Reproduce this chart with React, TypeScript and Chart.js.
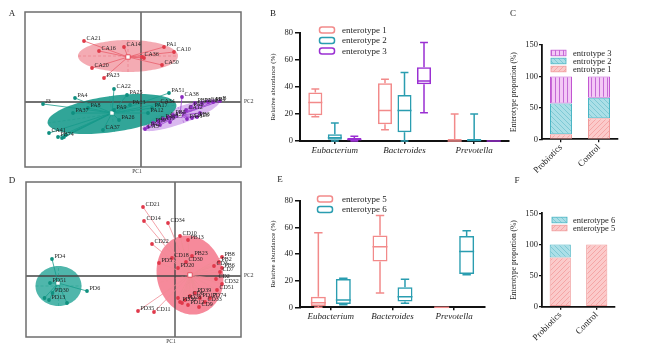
import React, { useEffect, useRef } from 'react';
import { Chart, registerables } from 'chart.js';

Chart.register(...registerables);

const SERIF = '"Liberation Serif", "DejaVu Serif", serif';
const INK = '#1e1e1e';

// ================= Panel A : PCA of enterotypes 1-3 =================
const A_ent1_names = ['CA21', 'CA16', 'CA14', 'PA1', 'CA10', 'CA36', 'CA50', 'CA20', 'PA23', ''];
const A_ent1_pc1 = [-0.57, -0.42, -0.17, 0.23, 0.33, 0.01, 0.21, -0.49, -0.37, 0.03];
const A_ent1_pc2 = [0.61, 0.51, 0.55, 0.55, 0.5, 0.45, 0.37, 0.34, 0.24, 0.44];
const A_ent1_centroid = [-0.13, 0.45];
const A_ent1_ellipse = [-0.13, 0.46, 0.5, 0.16, 0]; // cx, cy, semi-major, semi-minor, angle (deg)

const A_ent2_names = ['J3', 'PA4', 'CA22', 'PA25', 'PA8', 'PA37', 'PA9', 'PA13', 'PA51', 'CA34', 'PA17', 'PA12', 'CA37', 'PA26', 'CA41', 'PB74', '', '', ''];
const A_ent2_pc1 = [-0.98, -0.66, -0.27, -0.14, -0.53, -0.68, -0.27, -0.11, 0.28, 0.17, 0.11, 0.07, -0.38, -0.22, -0.92, -0.83, -0.79, -0.77, -0.75];
const A_ent2_pc2 = [-0.02, 0.04, 0.13, 0.07, -0.06, -0.11, -0.08, -0.03, 0.09, -0.02, -0.06, -0.11, -0.28, -0.18, -0.31, -0.35, -0.36, -0.35, -0.33];
const A_ent2_centroid = [-0.29, -0.11];
const A_ent2_ellipse = [-0.29, -0.12, 0.65, 0.18, 8];

const A_ent3_names = ['CA38', 'PB22', 'PA30', 'CA9', 'PB1', 'B', 'CA3', 'PA2', 'PB9', 'CA19', '', 'PA15', 'CA27', '', 'PB5', 'PA41', 'CA28', 'PB3', '', 'PA6', 'CA12'];
const A_ent3_pc1 = [0.41, 0.54, 0.61, 0.67, 0.72, 0.79, 0.04, 0.07, 0.12, 0.17, 0.19, 0.22, 0.27, 0.29, 0.32, 0.46, 0.51, 0.56, 0.59, 0.5, 0.45];
const A_ent3_pc2 = [0.05, -0.01, -0.01, 0.0, 0.0, 0.01, -0.27, -0.25, -0.21, -0.19, -0.23, -0.17, -0.15, -0.2, -0.13, -0.17, -0.16, -0.15, -0.11, -0.05, -0.08];
const A_ent3_centroid = [0.39, -0.13];
const A_ent3_ellipse = [0.4, -0.13, 0.41, 0.085, 20];

// ================= Panel D : PCA of enterotypes 5-6 =================
const D_ent5_names = ['CD21', 'CD14', 'CD34', 'CD10', 'CD22', 'PB13', 'PD5', 'CD18', 'PB23', 'CD30', 'PD20', 'PB8', 'PB2', 'CD3', 'PB6', 'CD7', 'CD2', 'CD32', 'CD51', 'PD35', 'CD11', 'PD36', '', 'PD28', 'CD6', 'PD39', 'PD17', 'CD33', 'PD74', 'CD9', 'PD12', ''];
const D_ent5_pc1 = [-0.32, -0.31, -0.07, 0.05, -0.23, 0.13, -0.16, -0.03, 0.17, 0.11, 0.03, 0.47, 0.44, 0.39, 0.47, 0.45, 0.41, 0.47, 0.42, -0.37, -0.21, 0.05, 0.07, 0.1, 0.15, 0.2, 0.25, 0.3, 0.35, 0.24, 0.13, 0.03];
const D_ent5_pc2 = [0.69, 0.55, 0.53, 0.4, 0.32, 0.36, 0.13, 0.18, 0.2, 0.14, 0.08, 0.19, 0.14, 0.1, 0.08, 0.04, -0.03, -0.08, -0.14, -0.35, -0.36, -0.26, -0.27, -0.24, -0.2, -0.17, -0.22, -0.26, -0.22, -0.31, -0.29, -0.22];
const D_ent5_centroid = [0.15, 0.01];
const D_ent5_ellipse = [0.15, 0.01, 0.4, 0.33, 104];

const D_ent6_names = ['PD4', 'PD6', 'PD51', 'PD30', 'PD13', '', ''];
const D_ent6_pc1 = [-1.23, -0.88, -1.25, -1.225, -1.26, -1.305, -1.08];
const D_ent6_pc2 = [0.17, -0.15, -0.07, -0.17, -0.24, -0.22, -0.27];
const D_ent6_centroid = [-1.17, -0.07];
const D_ent6_ellipse = [-1.165, -0.1, 0.23, 0.2, 0];

// ================= Panels B & E : relative abundance box plots =================
const genera = ['Eubacterium', 'Bacteroides', 'Prevotella'];

const B_ent1_min = [18, 8.4, 0];
const B_ent1_q1 = [19, 12.4, 0];
const B_ent1_median = [28.6, 22.6, 0];
const B_ent1_q3 = [36, 42.7, 1.5];
const B_ent1_max = [38.5, 45.7, 20];

const B_ent2_min = [0, 0, 0];
const B_ent2_q1 = [1, 6.5, 0];
const B_ent2_median = [2.5, 22.6, 0.3];
const B_ent2_q3 = [5, 34, 1.5];
const B_ent2_max = [13.4, 50.7, 20];

const B_ent3_min = [0, 21, 0];
const B_ent3_q1 = [0.5, 42, 0];
const B_ent3_median = [1.2, 44.5, 0];
const B_ent3_q3 = [2.2, 54.7, 0];
const B_ent3_max = [3.5, 73, 0];

const E_ent5_min = [0, 10.8, 0];
const E_ent5_q1 = [1, 34.3, 0];
const E_ent5_median = [3.5, 45.5, 0];
const E_ent5_q3 = [8, 53.8, 0];
const E_ent5_max = [56, 68.8, 0];

const E_ent6_min = [2, 3, 24.5];
const E_ent6_q1 = [2.5, 4.3, 25];
const E_ent6_median = [5.5, 8, 41.8];
const E_ent6_q3 = [21.3, 15, 53.5];
const E_ent6_max = [21.8, 21, 57.5];

// ================= Panels C & F : enterotype proportion =================
const groups = ['Probiotics', 'Control'];
const C_entro1 = [8, 33.4];
const C_entro2 = [49, 32.6];
const C_entro3 = [43, 34];
const F_ent5 = [79, 100];
const F_ent6 = [21, 0];

// ---------------------------------------------------------------
type Rect = { left: number; top: number; width: number; height: number };
type Area = { l: number; t: number; r: number; b: number };
type Group = { names: string[]; pc1: number[]; pc2: number[]; centroid: number[]; ellipse: number[]; fill: string; point: string; line: string };

function letterText(ctx: CanvasRenderingContext2D, text: string, x: number, y: number) {
  ctx.save();
  ctx.font = `9px ${SERIF}`;
  ctx.fillStyle = INK;
  ctx.textAlign = 'center';
  ctx.textBaseline = 'middle';
  ctx.fillText(text, x, y);
  ctx.restore();
}

function pcaConfig(rect: Rect, area: Area, xr: number[], yr: number[], gs: Group[], letter: string, letterAt: number[]) {
  const padding = { left: area.l - rect.left, top: area.t - rect.top, right: rect.left + rect.width - area.r, bottom: rect.top + rect.height - area.b };
  const datasets: any[] = [];
  gs.forEach((g) =>
    datasets.push({ label: 'samples', data: g.pc1.map((x, i) => ({ x, y: g.pc2[i] })), pointRadius: 1.9, pointBackgroundColor: g.point, pointBorderWidth: 0 })
  );
  gs.forEach((g) =>
    datasets.push({ label: 'centroid', data: [{ x: g.centroid[0], y: g.centroid[1] }], pointStyle: 'rect', pointRadius: 3.1, pointBackgroundColor: '#ffffff', pointBorderColor: g.point, pointBorderWidth: 0.8 })
  );
  const plugin = {
    id: 'pca',
    beforeDatasetsDraw(chart: any) {
      const { ctx, chartArea: ca } = chart;
      const xs = chart.scales.x;
      const ys = chart.scales.y;
      const P = (x: number, y: number) => [xs.getPixelForValue(x), ys.getPixelForValue(y)];
      ctx.save();
      ctx.beginPath();
      ctx.rect(ca.left, ca.top, ca.right - ca.left, ca.bottom - ca.top);
      ctx.clip();
      gs.forEach((g) => {
        const [cx, cy, a, b, deg] = g.ellipse;
        const th = (deg * Math.PI) / 180;
        ctx.beginPath();
        for (let k = 0; k <= 120; k++) {
          const t = (k / 120) * 2 * Math.PI;
          const ex = cx + a * Math.cos(t) * Math.cos(th) - b * Math.sin(t) * Math.sin(th);
          const ey = cy + a * Math.cos(t) * Math.sin(th) + b * Math.sin(t) * Math.cos(th);
          const [px, py] = P(ex, ey);
          if (k === 0) ctx.moveTo(px, py);
          else ctx.lineTo(px, py);
        }
        ctx.closePath();
        ctx.fillStyle = g.fill;
        ctx.fill();
      });
      // origin cross
      const x0 = xs.getPixelForValue(0);
      const y0 = ys.getPixelForValue(0);
      ctx.strokeStyle = '#444';
      ctx.lineWidth = 1.3;
      ctx.beginPath();
      ctx.moveTo(x0, ca.top);
      ctx.lineTo(x0, ca.bottom);
      ctx.moveTo(ca.left, y0);
      ctx.lineTo(ca.right, y0);
      ctx.stroke();
      gs.forEach((g) => {
        const [cx, cy, a, b, deg] = g.ellipse;
        const th = (deg * Math.PI) / 180;
        const c = Math.cos(th);
        const s = Math.sin(th);
        ctx.strokeStyle = g.line;
        ctx.globalAlpha = 0.6;
        ctx.lineWidth = 0.7;
        ctx.setLineDash([3, 2]);
        ctx.beginPath();
        let p1 = P(cx - a * c, cy - a * s);
        let p2 = P(cx + a * c, cy + a * s);
        ctx.moveTo(p1[0], p1[1]);
        ctx.lineTo(p2[0], p2[1]);
        p1 = P(cx + b * s, cy - b * c);
        p2 = P(cx - b * s, cy + b * c);
        ctx.moveTo(p1[0], p1[1]);
        ctx.lineTo(p2[0], p2[1]);
        ctx.stroke();
        ctx.setLineDash([]);
        ctx.globalAlpha = 1;
        ctx.lineWidth = 0.8;
        ctx.beginPath();
        const [gx, gy] = P(g.centroid[0], g.centroid[1]);
        g.pc1.forEach((x, i) => {
          const [px, py] = P(x, g.pc2[i]);
          ctx.moveTo(gx, gy);
          ctx.lineTo(px, py);
        });
        ctx.stroke();
      });
      ctx.restore();
    },
    afterDatasetsDraw(chart: any) {
      const { ctx, chartArea: ca } = chart;
      const xs = chart.scales.x;
      const ys = chart.scales.y;
      ctx.save();
      ctx.font = `6px ${SERIF}`;
      ctx.fillStyle = '#1f1f1f';
      ctx.textAlign = 'left';
      ctx.textBaseline = 'middle';
      gs.forEach((g) => {
        g.names.forEach((n, i) => {
          if (!n) return;
          ctx.fillText(n, xs.getPixelForValue(g.pc1[i]) + 2.5, ys.getPixelForValue(g.pc2[i]) - 2.5);
        });
      });
      // frame
      ctx.strokeStyle = '#6e6e6e';
      ctx.lineWidth = 1.5;
      ctx.strokeRect(ca.left, ca.top, ca.right - ca.left, ca.bottom - ca.top);
      ctx.font = `5.5px ${SERIF}`;
      ctx.fillStyle = '#333';
      ctx.textAlign = 'center';
      ctx.fillText('PC1', xs.getPixelForValue(0) - 4, ca.bottom + 5);
      ctx.textAlign = 'left';
      ctx.fillText('PC2', ca.right + 3, ys.getPixelForValue(0));
      ctx.restore();
      letterText(ctx, letter, letterAt[0] - rect.left, letterAt[1] - rect.top);
    },
  };
  return {
    type: 'scatter',
    data: { datasets },
    options: {
      responsive: false,
      animation: false,
      events: [],
      layout: { padding },
      scales: {
        x: { type: 'linear', min: xr[0], max: xr[1], display: false },
        y: { type: 'linear', min: yr[0], max: yr[1], display: false },
      },
      plugins: { legend: { display: false }, tooltip: { enabled: false } },
    },
    plugins: [plugin],
  };
}

type BoxSeries = { label: string; color: string; min: number[]; q1: number[]; median: number[]; q3: number[]; max: number[] };

function boxConfig(rect: Rect, area: Area, series: BoxSeries[], catPct: number, barPct: number, legendRows: number[], legendSymX: number, legendTextX: number, letter: string, letterAt: number[], titleX: number) {
  const padding = { left: 0, top: area.t - rect.top, right: rect.left + rect.width - area.r, bottom: 0 };
  const yW = area.l - rect.left;
  const xH = rect.top + rect.height - area.b;
  const titleSize = 7;
  const plugin = {
    id: 'boxWhisker',
    afterDatasetsDraw(chart: any) {
      const ctx = chart.ctx;
      const ys = chart.scales.y;
      const py = (v: number) => ys.getPixelForValue(v);
      ctx.save();
      series.forEach((s, d) => {
        const meta = chart.getDatasetMeta(d);
        meta.data.forEach((el: any, i: number) => {
          const { x, width } = el.getProps(['x', 'width'], true);
          const half = width / 2;
          const cap = width * 0.28;
          ctx.strokeStyle = s.color;
          ctx.lineWidth = 1.5;
          ctx.beginPath();
          if (s.max[i] > s.q3[i]) {
            ctx.moveTo(x, py(s.q3[i]));
            ctx.lineTo(x, py(s.max[i]));
            ctx.moveTo(x - cap, py(s.max[i]));
            ctx.lineTo(x + cap, py(s.max[i]));
          }
          if (s.min[i] < s.q1[i]) {
            ctx.moveTo(x, py(s.q1[i]));
            ctx.lineTo(x, py(s.min[i]));
            ctx.moveTo(x - cap, py(s.min[i]));
            ctx.lineTo(x + cap, py(s.min[i]));
          }
          ctx.moveTo(x - half, py(s.median[i]));
          ctx.lineTo(x + half, py(s.median[i]));
          ctx.stroke();
        });
      });
      // legend
      ctx.font = `9px ${SERIF}`;
      ctx.textAlign = 'left';
      ctx.textBaseline = 'middle';
      series.forEach((s, k) => {
        const y = legendRows[k] - rect.top;
        const sx = legendSymX - rect.left;
        ctx.strokeStyle = s.color;
        ctx.lineWidth = 1.5;
        ctx.beginPath();
        (ctx as any).roundRect(sx - 7.5, y - 3, 15, 6, 2.5);
        ctx.stroke();
        ctx.fillStyle = INK;
        ctx.fillText(s.label, legendTextX - rect.left, y + 0.5);
      });
      ctx.restore();
      letterText(ctx, letter, letterAt[0] - rect.left, letterAt[1] - rect.top);
    },
  };
  return {
    type: 'bar',
    data: {
      labels: genera,
      datasets: series.map((s) => ({
        label: s.label,
        data: s.q1.map((q, i) => [q, s.q3[i]]),
        backgroundColor: 'rgba(255,255,255,0)',
        borderColor: s.color,
        borderWidth: 1.5,
        borderSkipped: false,
        categoryPercentage: catPct,
        barPercentage: barPct,
      })),
    },
    options: {
      responsive: false,
      animation: false,
      events: [],
      layout: { padding },
      scales: {
        x: {
          grid: { display: true, drawOnChartArea: false, drawTicks: true, tickLength: 3, color: '#111', lineWidth: 1.5, offset: false },
          border: { display: true, color: '#111', width: 2 },
          ticks: { font: { family: SERIF, size: 9, style: 'italic' }, color: INK, padding: 1, maxRotation: 0, minRotation: 0, autoSkip: false },
          afterFit: (s: any) => {
            s.height = xH;
          },
        },
        y: {
          min: 0,
          max: 80,
          ticks: { stepSize: 20, font: { family: SERIF, size: 8.5 }, color: INK, padding: 2 },
          grid: { display: true, drawOnChartArea: false, drawTicks: true, tickLength: 5, color: '#111', lineWidth: 1.5 },
          border: { display: true, color: '#111', width: 2 },
          title: { display: true, text: 'Relative abundance (%)', font: { family: SERIF, size: titleSize }, color: INK, padding: { top: titleX - rect.left - titleSize * 0.6, bottom: 0 } },
          afterFit: (s: any) => {
            s.width = yW;
          },
        },
      },
      plugins: { legend: { display: false }, tooltip: { enabled: false } },
    },
    plugins: [plugin],
  };
}

function makePattern(base: string, line: string, kind: 'fwd' | 'back' | 'vert'): CanvasPattern {
  const c = document.createElement('canvas');
  const s = kind === 'vert' ? 4 : 5;
  c.width = s;
  c.height = s;
  const g = c.getContext('2d')!;
  g.fillStyle = base;
  g.fillRect(0, 0, s, s);
  g.strokeStyle = line;
  g.lineWidth = 0.9;
  if (kind === 'vert') {
    g.fillStyle = line;
    g.fillRect(0, 0, 1, s);
  } else if (kind === 'fwd') {
    g.beginPath();
    g.moveTo(0, s);
    g.lineTo(s, 0);
    g.moveTo(-1, 1);
    g.lineTo(1, -1);
    g.moveTo(s - 1, s + 1);
    g.lineTo(s + 1, s - 1);
    g.stroke();
  } else {
    g.beginPath();
    g.moveTo(0, 0);
    g.lineTo(s, s);
    g.moveTo(s - 1, -1);
    g.lineTo(s + 1, 1);
    g.moveTo(-1, s - 1);
    g.lineTo(1, s + 1);
    g.stroke();
  }
  return g.createPattern(c, 'repeat')!;
}

type StackSeries = { label: string; values: number[]; base: string; line: string; border: string; kind: 'fwd' | 'back' | 'vert' };

function stackConfig(rect: Rect, area: Area, series: StackSeries[], legendRows: number[], symL: number, textX: number, letter: string, letterAt: number[], titleX: number) {
  const padding = { left: 0, top: area.t - rect.top, right: rect.left + rect.width - area.r, bottom: 0 };
  const yW = area.l - rect.left;
  const xH = rect.top + rect.height - area.b;
  const titleSize = 7.5;
  const pats = series.map((s) => makePattern(s.base, s.line, s.kind));
  const plugin = {
    id: 'stackLegend',
    afterDraw(chart: any) {
      const ctx = chart.ctx;
      ctx.save();
      ctx.font = `8.5px ${SERIF}`;
      ctx.textAlign = 'left';
      ctx.textBaseline = 'middle';
      // legend is listed top-down in reverse stacking order
      const order = series.map((_, i) => i).reverse();
      order.forEach((si, k) => {
        const s = series[si];
        const y = legendRows[k] - rect.top;
        const x = symL - rect.left;
        ctx.fillStyle = pats[si];
        ctx.fillRect(x, y - 2.8, 15, 5.6);
        ctx.strokeStyle = s.border;
        ctx.lineWidth = 0.8;
        ctx.strokeRect(x, y - 2.8, 15, 5.6);
        ctx.fillStyle = INK;
        ctx.fillText(s.label, textX - rect.left, y + 0.5);
      });
      ctx.restore();
      letterText(ctx, letter, letterAt[0] - rect.left, letterAt[1] - rect.top);
    },
  };
  return {
    type: 'bar',
    data: {
      labels: groups,
      datasets: series.map((s, i) => ({
        label: s.label,
        data: s.values,
        backgroundColor: pats[i],
        borderColor: s.border,
        borderWidth: 1,
        borderSkipped: false,
        categoryPercentage: 1,
        barPercentage: 0.58,
      })),
    },
    options: {
      responsive: false,
      animation: false,
      events: [],
      layout: { padding },
      scales: {
        x: {
          stacked: true,
          grid: { display: true, drawOnChartArea: false, drawTicks: true, tickLength: 3, color: '#111', lineWidth: 1.3, offset: false },
          border: { display: true, color: '#111', width: 1.8 },
          ticks: { font: { family: SERIF, size: 9 }, color: INK, padding: 0, maxRotation: 45, minRotation: 45, autoSkip: false },
          afterFit: (s: any) => {
            s.height = xH;
          },
        },
        y: {
          stacked: true,
          min: 0,
          max: 150,
          ticks: { stepSize: 50, font: { family: SERIF, size: 8.5 }, color: INK, padding: 1 },
          grid: { display: true, drawOnChartArea: false, drawTicks: true, tickLength: 3, color: '#111', lineWidth: 1.3 },
          border: { display: true, color: '#111', width: 1.8 },
          title: { display: true, text: 'Enterotype proportion (%)', font: { family: SERIF, size: titleSize }, color: INK, padding: { top: titleX - rect.left - titleSize * 0.6, bottom: 0 } },
          afterFit: (s: any) => {
            s.width = yW;
          },
        },
      },
      plugins: { legend: { display: false }, tooltip: { enabled: false } },
    },
    plugins: [plugin],
  };
}

// ---------------------------------------------------------------
const PINK = '#f28a8a';
const TEAL = '#2a9db0';
const PURPLE = '#9a2fd2';

const rectA: Rect = { left: 0, top: 0, width: 262, height: 178 };
const rectD: Rect = { left: 0, top: 176, width: 262, height: 176 };
const rectB: Rect = { left: 240, top: 0, width: 280, height: 168 };
const rectE: Rect = { left: 240, top: 170, width: 262, height: 162 };
const rectC: Rect = { left: 495, top: 0, width: 151, height: 180 };
const rectF: Rect = { left: 495, top: 176, width: 151, height: 176 };

const makeA = () =>
  pcaConfig(
    rectA,
    { l: 25, t: 12, r: 241, b: 167 },
    [-1.16, 1.0],
    [-0.65, 0.9],
    [
      { names: A_ent1_names, pc1: A_ent1_pc1, pc2: A_ent1_pc2, centroid: A_ent1_centroid, ellipse: A_ent1_ellipse, fill: 'rgba(238,120,132,0.62)', point: '#e03a48', line: '#e8606c' },
      { names: A_ent3_names, pc1: A_ent3_pc1, pc2: A_ent3_pc2, centroid: A_ent3_centroid, ellipse: A_ent3_ellipse, fill: 'rgba(205,160,235,0.75)', point: '#8a2bbf', line: '#9b3fd0' },
      { names: A_ent2_names, pc1: A_ent2_pc1, pc2: A_ent2_pc2, centroid: A_ent2_centroid, ellipse: A_ent2_ellipse, fill: 'rgba(38,160,146,0.95)', point: '#0f8f80', line: '#17998a' },
    ],
    'A',
    [12, 14]
  );

const makeD = () =>
  pcaConfig(
    rectD,
    { l: 26, t: 182, r: 241, b: 337 },
    [-1.49, 0.66],
    [-0.61, 0.94],
    [
      { names: D_ent5_names, pc1: D_ent5_pc1, pc2: D_ent5_pc2, centroid: D_ent5_centroid, ellipse: D_ent5_ellipse, fill: 'rgba(244,118,138,0.85)', point: '#e0384a', line: '#f08c96' },
      { names: D_ent6_names, pc1: D_ent6_pc1, pc2: D_ent6_pc2, centroid: D_ent6_centroid, ellipse: D_ent6_ellipse, fill: 'rgba(70,178,166,0.95)', point: '#10907f', line: '#169a8a' },
    ],
    'D',
    [12, 181]
  );

const makeB = () =>
  boxConfig(
    rectB,
    { l: 300, t: 33, r: 509, b: 141 },
    [
      { label: 'enterotype 1', color: PINK, min: B_ent1_min, q1: B_ent1_q1, median: B_ent1_median, q3: B_ent1_q3, max: B_ent1_max },
      { label: 'enterotype 2', color: TEAL, min: B_ent2_min, q1: B_ent2_q1, median: B_ent2_median, q3: B_ent2_q3, max: B_ent2_max },
      { label: 'enterotype 3', color: PURPLE, min: B_ent3_min, q1: B_ent3_q1, median: B_ent3_median, q3: B_ent3_q3, max: B_ent3_max },
    ],
    0.84,
    0.72,
    [30, 40.5, 51],
    327,
    342,
    'B',
    [273, 14],
    273
  );

const makeE = () =>
  boxConfig(
    rectE,
    { l: 300, t: 200.7, r: 485, b: 307.3 },
    [
      { label: 'enterotype 5', color: PINK, min: E_ent5_min, q1: E_ent5_q1, median: E_ent5_median, q3: E_ent5_q3, max: E_ent5_max },
      { label: 'enterotype 6', color: TEAL, min: E_ent6_min, q1: E_ent6_q1, median: E_ent6_median, q3: E_ent6_q3, max: E_ent6_max },
    ],
    0.81,
    0.6,
    [199, 209.5],
    325,
    342,
    'E',
    [280, 180],
    273
  );

const makeC = () =>
  stackConfig(
    rectC,
    { l: 542, t: 45, r: 618, b: 139.3 },
    [
      { label: 'entrotype 1', values: C_entro1, base: '#fbcaca', line: '#f4a2a2', border: '#f09a9a', kind: 'fwd' },
      { label: 'entrotype 2', values: C_entro2, base: '#abdfe7', line: '#78c6d3', border: '#49b4c4', kind: 'back' },
      { label: 'entrotype 3', values: C_entro3, base: '#f4c8f6', line: '#c46ad6', border: '#c155d1', kind: 'vert' },
    ],
    [53, 61, 69],
    551,
    573,
    'C',
    [513, 14],
    514
  );

const makeF = () =>
  stackConfig(
    rectF,
    { l: 542, t: 213.3, r: 615, b: 306.7 },
    [
      { label: 'enterotype 5', values: F_ent5, base: '#fbcaca', line: '#f4a2a2', border: '#f09a9a', kind: 'fwd' },
      { label: 'enterotype 6', values: F_ent6, base: '#abdfe7', line: '#78c6d3', border: '#49b4c4', kind: 'back' },
    ],
    [220, 228],
    552,
    573,
    'F',
    [517, 181],
    514
  );

function ChartBox({ rect, make }: { rect: Rect; make: () => any }) {
  const ref = useRef<HTMLCanvasElement | null>(null);
  useEffect(() => {
    const c = ref.current;
    if (!c) return;
    const chart = new Chart(c, make());
    return () => chart.destroy();
  }, []);
  return (
    <canvas
      ref={ref}
      width={rect.width}
      height={rect.height}
      style={{ position: 'absolute', left: rect.left, top: rect.top, width: rect.width, height: rect.height }}
    />
  );
}

export default function App() {
  return (
    <div style={{ position: 'fixed', left: 0, top: 0, width: 646, height: 352, background: '#ffffff', overflow: 'hidden' }}>
      <ChartBox rect={rectA} make={makeA} />
      <ChartBox rect={rectD} make={makeD} />
      <ChartBox rect={rectB} make={makeB} />
      <ChartBox rect={rectE} make={makeE} />
      <ChartBox rect={rectC} make={makeC} />
      <ChartBox rect={rectF} make={makeF} />
    </div>
  );
}
